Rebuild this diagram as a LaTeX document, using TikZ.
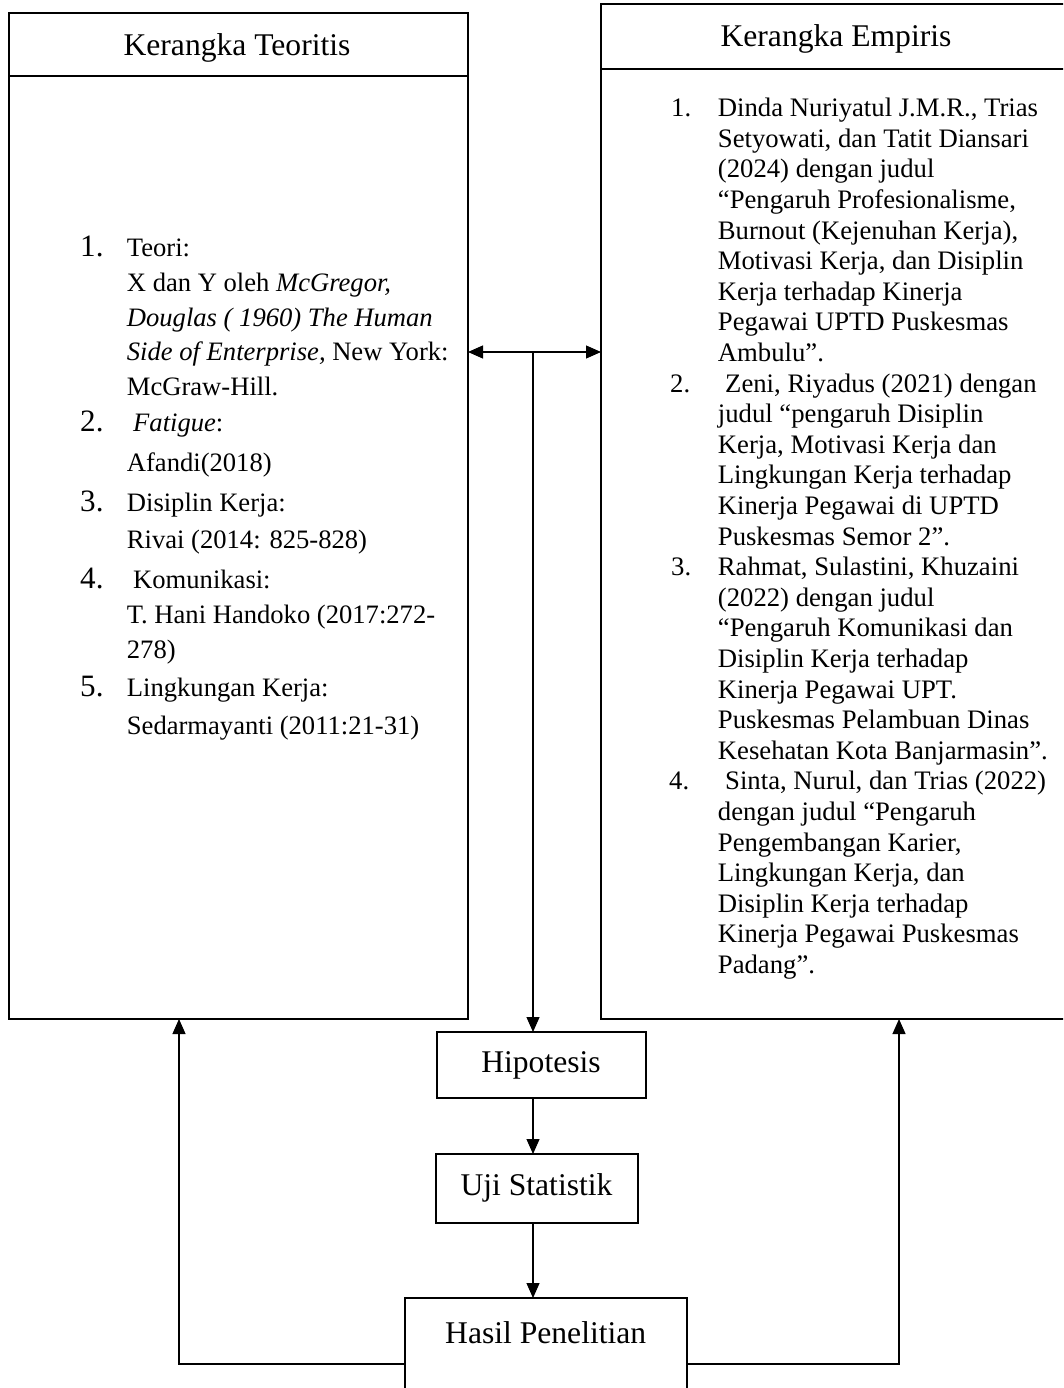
\documentclass[tikz,border=0pt]{standalone}
\usepackage{fontspec}
\setmainfont{Liberation Serif}
\usetikzlibrary{arrows.meta}
\begin{document}
\begin{tikzpicture}[x=1pt,y=-1pt,
  box/.style={draw,line width=2pt,inner sep=0pt,outer sep=0pt},
  conn/.style={line width=1.2pt},
  arr/.style={conn,-{Triangle[length=15pt,width=13pt]}},
  hdr/.style={anchor=base,inner sep=0pt,font=\fontsize{31.6}{36}\selectfont},
  lt/.style={anchor=base west,inner sep=0pt,font=\fontsize{26.6}{30}\selectfont},
  ln/.style={anchor=base west,inner sep=0pt,font=\fontsize{31.1}{36}\selectfont},
  rt/.style={anchor=base west,inner sep=0pt,font=\fontsize{26.7}{30}\selectfont}]
\useasboundingbox (0,0) rectangle (1063,1388);
\clip (0,0) rectangle (1063,1388);
\fill[white] (0,0) rectangle (1063,1388);

% main boxes
\node[box,minimum width=459pt,minimum height=1006pt,anchor=north west] (teo) at (9,13) {};
\draw[line width=2pt] (9,76) -- (468,76);
\node[hdr] (teoh) at (237,55.5) {Kerangka Teoritis};

\node[box,minimum width=480pt,minimum height=1015pt,anchor=north west] (emp) at (601,4) {};
\draw[line width=2pt] (601,69) -- (1081,69);
\node[hdr] (emph) at (836,47) {Kerangka Empiris};

% flow boxes
\node[box,minimum width=209pt,minimum height=66pt,anchor=north west] (hip) at (437,1032) {};
\node[hdr] (hipt) at (541,1072.7) {Hipotesis};
\node[box,minimum width=202pt,minimum height=69pt,anchor=north west] (uji) at (436,1154) {};
\node[hdr] (ujit) at (536.5,1195) {Uji Statistik};
\node[box,minimum width=282pt,minimum height=140pt,anchor=north west] (has) at (405,1298) {};
\node[hdr] (hast) at (545.7,1343.3) {Hasil Penelitian};

% left list
\node[ln] (n1) at (80,256.7) {1.};
\node[lt] (l1) at (126.7,256.7) {Teori:};
\node[lt] (l2) at (126.7,291.7) {X dan Y oleh \textit{McGregor,}};
\node[lt] (l3) at (126.7,326.7) {\textit{Douglas ( 1960) The Human}};
\node[lt] (l4) at (126.7,360.7) {\textit{Side of Enterprise,} New York:};
\node[lt] (l5) at (126.7,395.7) {McGraw-Hill.};
\node[ln] (n2) at (80,431.7) {2.};
\node[lt] (l6) at (133,431.7) {\textit{Fatigue}:};
\node[lt] (l7) at (126.7,471.7) {Afandi(2018)};
\node[ln] (n3) at (80,511.7) {3.};
\node[lt] (l8) at (126.7,511.7) {Disiplin Kerja:};
\node[lt] (l9) at (126.7,548.3) {Rivai (2014: 825-828)};
\node[ln] (n4) at (80,588.3) {4.};
\node[lt] (l10) at (133,588.3) {Komunikasi:};
\node[lt] (l11) at (126.7,623.3) {T. Hani Handoko (2017:272-};
\node[lt] (l12) at (126.7,658.3) {278)};
\node[ln] (n5) at (80,696.7) {5.};
\node[lt] (l13) at (126.7,696.7) {Lingkungan Kerja:};
\node[lt] (l14) at (126.7,734.5) {Sedarmayanti (2011:21-31)};

% right list
\node[rt] (m1) at (671,116.7) {1.};
\node[rt] (r1) at (717.7,116.7) {Dinda Nuriyatul J.M.R., Trias};
\node[rt] (r2) at (717.7,147.3) {Setyowati, dan Tatit Diansari};
\node[rt] (r3) at (717.7,177.9) {(2024) dengan judul};
\node[rt] (r4) at (717.7,208.5) {“Pengaruh Profesionalisme,};
\node[rt] (r5) at (717.7,239.1) {Burnout (Kejenuhan Kerja),};
\node[rt] (r6) at (717.7,269.7) {Motivasi Kerja, dan Disiplin};
\node[rt] (r7) at (717.7,300.3) {Kerja terhadap Kinerja};
\node[rt] (r8) at (717.7,330.9) {Pegawai UPTD Puskesmas};
\node[rt] (r9) at (717.7,361.5) {Ambulu”.};
\node[rt] (m2) at (670,392.1) {2.};
\node[rt] (r10) at (725,392.1) {Zeni, Riyadus (2021) dengan};
\node[rt] (r11) at (717.7,422.7) {judul “pengaruh Disiplin};
\node[rt] (r12) at (717.7,453.3) {Kerja, Motivasi Kerja dan};
\node[rt] (r13) at (717.7,483.9) {Lingkungan Kerja terhadap};
\node[rt] (r14) at (717.7,514.5) {Kinerja Pegawai di UPTD};
\node[rt] (r15) at (717.7,545.1) {Puskesmas Semor 2”.};
\node[rt] (m3) at (671,575.7) {3.};
\node[rt] (r16) at (717.7,575.7) {Rahmat, Sulastini, Khuzaini};
\node[rt] (r17) at (717.7,606.3) {(2022) dengan judul};
\node[rt] (r18) at (717.7,636.9) {“Pengaruh Komunikasi dan};
\node[rt] (r19) at (717.7,667.5) {Disiplin Kerja terhadap};
\node[rt] (r20) at (717.7,698.1) {Kinerja Pegawai UPT.};
\node[rt] (r21) at (717.7,728.7) {Puskesmas Pelambuan Dinas};
\node[rt] (r22) at (717.7,759.3) {Kesehatan Kota Banjarmasin”.};
\node[rt] (m4) at (669,789.9) {4.};
\node[rt] (r23) at (725,789.9) {Sinta, Nurul, dan Trias (2022)};
\node[rt] (r24) at (717.7,820.5) {dengan judul “Pengaruh};
\node[rt] (r25) at (717.7,851.1) {Pengembangan Karier,};
\node[rt] (r26) at (717.7,881.7) {Lingkungan Kerja, dan};
\node[rt] (r27) at (717.7,912.3) {Disiplin Kerja terhadap};
\node[rt] (r28) at (717.7,942.9) {Kinerja Pegawai Puskesmas};
\node[rt] (r29) at (717.7,973.5) {Padang”.};

% connectors
\coordinate (mid) at (533,352);
\draw[conn,{Triangle[length=15pt,width=13pt]}-{Triangle[length=15pt,width=13pt]}] (teo.east |- mid) -- (emp.west |- mid);
\draw[arr] (mid) -- (hip.north -| mid);
\draw[arr] (hip.south -| mid) -- (uji.north -| mid);
\draw[arr] (uji.south -| mid) -- (has.north -| mid);
\coordinate (lc) at (179,1364);
\coordinate (rc) at (899,1364);
\draw[arr] (has.west |- lc) -- (lc) -- (teo.south -| lc);
\draw[arr] (has.east |- rc) -- (rc) -- (emp.south -| rc);
\end{tikzpicture}
\end{document}
